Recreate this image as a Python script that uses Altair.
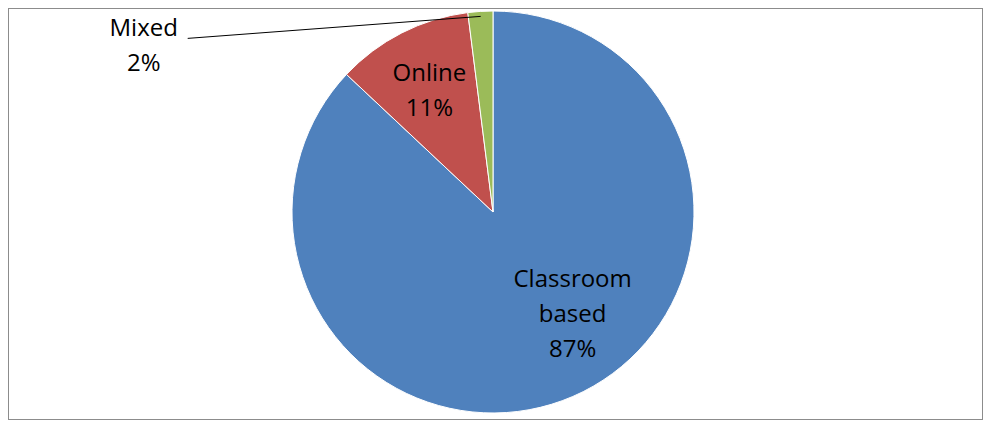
import math
import altair as alt
import pandas as pd

categories = ["Classroom based", "Online", "Mixed"]
values = [87, 11, 2]
label_lines = ["Classroom\nbased", "Online", "Mixed"]
colors = ["#4F81BD", "#C0504D", "#9BBB59"]

W, H = 975, 412
CX, CY = 485, 204
R = 201

rows = []
cum = 0
for i, (c, v, l) in enumerate(zip(categories, values, label_lines)):
    mid = cum + v / 2
    ang = mid / 100 * 2 * math.pi
    rows.append({
        "category": c, "value": v, "order": i,
        "mid": mid,
        "label": f"{l}\n{v}%",
        "px": CX + (R - 5) * math.sin(ang),
        "py": CY - (R - 5) * math.cos(ang),
    })
    cum += v
df = pd.DataFrame(rows)

theta_scale = alt.Scale(domain=[0, 100], range=[0, 2 * math.pi])
color_scale = alt.Scale(domain=categories, range=colors)

pie = alt.Chart(df).mark_arc(radius=R, x=CX, y=CY, stroke="white", strokeWidth=1).encode(
    theta=alt.Theta("value:Q", stack=True, scale=theta_scale),
    order=alt.Order("order:Q"),
    color=alt.Color("category:N", scale=color_scale, legend=None),
)

font = dict(font="Open Sans", fontSize=24, lineHeight=35, color="black",
            align="center", baseline="middle", lineBreak="\n")

def label(cat, radius, dx, dy):
    return alt.Chart(df).transform_filter(alt.datum.category == cat).mark_text(
        radius=radius, x=CX, y=CY, dx=dx, dy=dy, **font
    ).encode(
        theta=alt.Theta("mid:Q", scale=theta_scale),
        text="label:N",
    )

lab_class = label("Classroom based", 130, 28, -51)
lab_online = label("Online", 138, -1, -15)
lab_mixed = label("Mixed", R - 5, -337, 13)

# leader line from Mixed label to its slice
leader_df = df[df.category == "Mixed"].copy()
leader_df["lx"] = leader_df["px"] - 337 + 44
leader_df["ly"] = leader_df["py"] + 22
leader = alt.Chart(leader_df).mark_rule(color="black", strokeWidth=1).encode(
    x=alt.X("lx:Q", scale=None), y=alt.Y("ly:Q", scale=None),
    x2="px:Q", y2="py:Q",
)

chart = alt.layer(pie, leader, lab_class, lab_online, lab_mixed).properties(
    width=W, height=H, padding=0,
    autosize=alt.AutoSizeParams(type="none"),
).configure_view(stroke="#8c8c8c", strokeWidth=2)

chart.save("out.html", embed_options={"renderer": "svg", "actions": False})
